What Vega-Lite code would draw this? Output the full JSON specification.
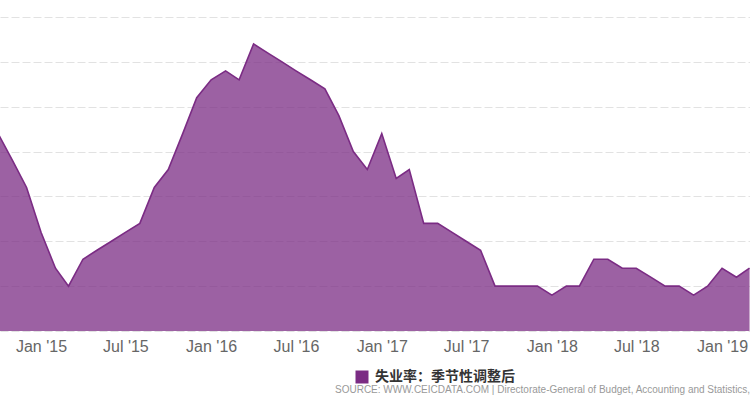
{
  "$schema": "https://vega.github.io/schema/vega-lite/v6.json",
  "width": 750,
  "height": 314,
  "autosize": {"type": "none"},
  "padding": {"top": 17, "bottom": 79, "left": 0, "right": 0},
  "background": "white",
  "config": {"view": {"stroke": null}},
  "title": {
    "text": "SOURCE: WWW.CEICDATA.COM | Directorate-General of Budget, Accounting and Statistics, Executive Yuan",
    "orient": "bottom",
    "anchor": "start",
    "frame": "group",
    "dx": 335,
    "offset": 1,
    "font": "Liberation Sans",
    "fontSize": 10,
    "fontWeight": "normal",
    "color": "#999999"
  },
  "data": {
    "values": [
      {"date": "2014-10-01", "value": 3.82, "series": "失业率：季节性调整后"},
      {"date": "2014-11-01", "value": 3.79, "series": "失业率：季节性调整后"},
      {"date": "2014-12-01", "value": 3.76, "series": "失业率：季节性调整后"},
      {"date": "2015-01-01", "value": 3.71, "series": "失业率：季节性调整后"},
      {"date": "2015-02-01", "value": 3.67, "series": "失业率：季节性调整后"},
      {"date": "2015-03-01", "value": 3.65, "series": "失业率：季节性调整后"},
      {"date": "2015-04-01", "value": 3.68, "series": "失业率：季节性调整后"},
      {"date": "2015-05-01", "value": 3.69, "series": "失业率：季节性调整后"},
      {"date": "2015-06-01", "value": 3.70, "series": "失业率：季节性调整后"},
      {"date": "2015-07-01", "value": 3.71, "series": "失业率：季节性调整后"},
      {"date": "2015-08-01", "value": 3.72, "series": "失业率：季节性调整后"},
      {"date": "2015-09-01", "value": 3.76, "series": "失业率：季节性调整后"},
      {"date": "2015-10-01", "value": 3.78, "series": "失业率：季节性调整后"},
      {"date": "2015-11-01", "value": 3.82, "series": "失业率：季节性调整后"},
      {"date": "2015-12-01", "value": 3.86, "series": "失业率：季节性调整后"},
      {"date": "2016-01-01", "value": 3.88, "series": "失业率：季节性调整后"},
      {"date": "2016-02-01", "value": 3.89, "series": "失业率：季节性调整后"},
      {"date": "2016-03-01", "value": 3.88, "series": "失业率：季节性调整后"},
      {"date": "2016-04-01", "value": 3.92, "series": "失业率：季节性调整后"},
      {"date": "2016-05-01", "value": 3.91, "series": "失业率：季节性调整后"},
      {"date": "2016-06-01", "value": 3.90, "series": "失业率：季节性调整后"},
      {"date": "2016-07-01", "value": 3.89, "series": "失业率：季节性调整后"},
      {"date": "2016-08-01", "value": 3.88, "series": "失业率：季节性调整后"},
      {"date": "2016-09-01", "value": 3.87, "series": "失业率：季节性调整后"},
      {"date": "2016-10-01", "value": 3.84, "series": "失业率：季节性调整后"},
      {"date": "2016-11-01", "value": 3.80, "series": "失业率：季节性调整后"},
      {"date": "2016-12-01", "value": 3.78, "series": "失业率：季节性调整后"},
      {"date": "2017-01-01", "value": 3.82, "series": "失业率：季节性调整后"},
      {"date": "2017-02-01", "value": 3.77, "series": "失业率：季节性调整后"},
      {"date": "2017-03-01", "value": 3.78, "series": "失业率：季节性调整后"},
      {"date": "2017-04-01", "value": 3.72, "series": "失业率：季节性调整后"},
      {"date": "2017-05-01", "value": 3.72, "series": "失业率：季节性调整后"},
      {"date": "2017-06-01", "value": 3.71, "series": "失业率：季节性调整后"},
      {"date": "2017-07-01", "value": 3.70, "series": "失业率：季节性调整后"},
      {"date": "2017-08-01", "value": 3.69, "series": "失业率：季节性调整后"},
      {"date": "2017-09-01", "value": 3.65, "series": "失业率：季节性调整后"},
      {"date": "2017-10-01", "value": 3.65, "series": "失业率：季节性调整后"},
      {"date": "2017-11-01", "value": 3.65, "series": "失业率：季节性调整后"},
      {"date": "2017-12-01", "value": 3.65, "series": "失业率：季节性调整后"},
      {"date": "2018-01-01", "value": 3.64, "series": "失业率：季节性调整后"},
      {"date": "2018-02-01", "value": 3.65, "series": "失业率：季节性调整后"},
      {"date": "2018-03-01", "value": 3.65, "series": "失业率：季节性调整后"},
      {"date": "2018-04-01", "value": 3.68, "series": "失业率：季节性调整后"},
      {"date": "2018-05-01", "value": 3.68, "series": "失业率：季节性调整后"},
      {"date": "2018-06-01", "value": 3.67, "series": "失业率：季节性调整后"},
      {"date": "2018-07-01", "value": 3.67, "series": "失业率：季节性调整后"},
      {"date": "2018-08-01", "value": 3.66, "series": "失业率：季节性调整后"},
      {"date": "2018-09-01", "value": 3.65, "series": "失业率：季节性调整后"},
      {"date": "2018-10-01", "value": 3.65, "series": "失业率：季节性调整后"},
      {"date": "2018-11-01", "value": 3.64, "series": "失业率：季节性调整后"},
      {"date": "2018-12-01", "value": 3.65, "series": "失业率：季节性调整后"},
      {"date": "2019-01-01", "value": 3.67, "series": "失业率：季节性调整后"},
      {"date": "2019-02-01", "value": 3.66, "series": "失业率：季节性调整后"},
      {"date": "2019-03-01", "value": 3.67, "series": "失业率：季节性调整后"}
    ]
  },
  "mark": {
    "type": "area",
    "clip": true,
    "fillOpacity": 0.75,
    "line": {"strokeWidth": 1.6}
  },
  "encoding": {
    "x": {
      "field": "date",
      "type": "temporal",
      "scale": {
        "type": "utc",
        "domain": [
          {"year": 2014, "month": 10, "date": 5, "utc": true},
          {"year": 2019, "month": 3, "date": 2, "utc": true}
        ]
      },
      "axis": {
        "title": null,
        "values": [
          {"year": 2015, "month": 1, "date": 1, "utc": true},
          {"year": 2015, "month": 7, "date": 1, "utc": true},
          {"year": 2016, "month": 1, "date": 1, "utc": true},
          {"year": 2016, "month": 7, "date": 1, "utc": true},
          {"year": 2017, "month": 1, "date": 1, "utc": true},
          {"year": 2017, "month": 7, "date": 1, "utc": true},
          {"year": 2018, "month": 1, "date": 1, "utc": true},
          {"year": 2018, "month": 7, "date": 1, "utc": true},
          {"year": 2019, "month": 1, "date": 1, "utc": true}
        ],
        "labelExpr": "utcFormat(datum.value, \"%b '%y\")",
        "grid": false,
        "ticks": false,
        "domain": false,
        "labelPadding": 7,
        "labelFont": "Liberation Sans",
        "labelFontSize": 16,
        "labelColor": "#666666",
        "labelOverlap": false,
        "labelBound": false,
        "labelFlush": false
      }
    },
    "y": {
      "field": "value",
      "type": "quantitative",
      "scale": {"domain": [3.6, 3.95], "zero": false, "nice": false},
      "axis": {
        "title": null,
        "labels": false,
        "ticks": false,
        "domain": false,
        "grid": true,
        "values": [3.6, 3.65, 3.7, 3.75, 3.8, 3.85, 3.9, 3.95],
        "gridColor": "#e2e2e2",
        "gridDash": [8, 3],
        "gridWidth": 1
      }
    },
    "color": {
      "field": "series",
      "type": "nominal",
      "scale": {"range": ["#7b2c84"]},
      "legend": {
        "orient": "none",
        "legendX": 355,
        "legendY": 353,
        "title": null,
        "padding": 0,
        "symbolType": "square",
        "symbolSize": 169,
        "symbolOpacity": 1,
        "symbolStrokeWidth": 0,
        "symbolFillColor": "#7b2c84",
        "labelFont": "Noto Sans CJK SC",
        "labelFontSize": 14,
        "labelFontWeight": "bold",
        "labelColor": "#333333",
        "labelOffset": 6
      }
    }
  }
}
